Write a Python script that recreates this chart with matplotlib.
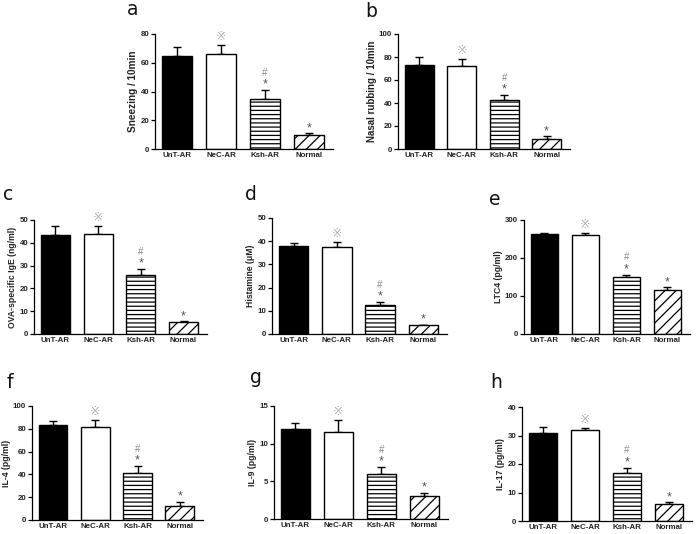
import matplotlib
matplotlib.use("Agg")
import matplotlib.pyplot as plt

plt.rcParams['font.family'] = ['Liberation Sans', 'DejaVu Sans', 'Noto Sans CJK SC']
plt.rcParams['hatch.linewidth'] = 0.9

groups = ["UnT-AR", "NeC-AR", "Ksh-AR", "Normal"]

letters = ["a", "b", "c", "d", "e", "f", "g", "h"]
ylabels = ["Sneezing / 10min", "Nasal rubbing / 10min", "OVA-specific IgE (ng/ml)",
           "Histamine (\u03bcM)", "LTC4 (pg/ml)", "IL-4 (pg/ml)", "IL-9 (pg/ml)", "IL-17 (pg/ml)"]

means_a = [65, 66, 35, 10]
errs_a = [6, 6.5, 6, 1]
means_b = [73, 72, 43, 9]
errs_b = [7, 6, 4, 2]
means_c = [43.5, 44, 26, 5.3]
errs_c = [4, 3.5, 2.3, 0.3]
means_d = [38, 37.5, 12.3, 3.7]
errs_d = [1.3, 2.2, 1.5, 0.3]
means_e = [263, 260, 150, 115]
errs_e = [4, 6, 6, 8]
means_f = [83, 82, 41, 12]
errs_f = [4, 6, 6, 4]
means_g = [12, 11.5, 6, 3]
errs_g = [0.8, 1.7, 0.9, 0.5]
means_h = [31, 32, 17, 6]
errs_h = [2, 0.7, 1.7, 0.7]

ymax = [80, 100, 50, 50, 300, 100, 15, 40]
ystep = [20, 20, 10, 10, 100, 20, 5, 10]
ylabel_size = [7.2, 7.0, 6.2, 6.2, 6.2, 6.2, 6.2, 6.2]

all_means = [means_a, means_b, means_c, means_d, means_e, means_f, means_g, means_h]
all_errs = [errs_a, errs_b, errs_c, errs_d, errs_e, errs_f, errs_g, errs_h]

# axes rectangles in pixels: (left, right, top, bottom)
rects_px = [
    (155, 333, 34, 149),
    (398, 570, 34, 149),
    (34, 207, 220, 334),
    (272, 447, 218, 334),
    (524, 690, 220, 334),
    (32, 203, 406, 520),
    (274, 448, 406, 519),
    (522, 692, 407, 521),
]
letter_px = [(127, 15), (365, 17), (3, 200), (245, 200), (489, 205), (7, 388), (250, 383), (490, 388)]

W, H = 700, 534
fig = plt.figure(figsize=(W / 100, H / 100), dpi=100)

fills = ["black", "white", "white", "white"]
hatches = [None, None, "----", "///"]

for i in range(8):
    l, r, t, b = rects_px[i]
    ax = fig.add_axes([l / W, 1 - b / H, (r - l) / W, (b - t) / H])
    m = all_means[i]
    e = all_errs[i]
    x = list(range(4))
    for j in range(4):
        ax.bar(x[j], m[j], width=0.68, color=fills[j], edgecolor="black",
               linewidth=1.0, hatch=hatches[j], zorder=2)
        ax.errorbar(x[j], m[j], yerr=[[0], [e[j]]], fmt="none", ecolor="black",
                    elinewidth=1.0, capsize=3, capthick=1.0, zorder=1)
    ax.set_xlim(-0.5, 3.55)
    ax.set_ylim(0, ymax[i])
    ax.set_yticks([k * ystep[i] for k in range(int(ymax[i] / ystep[i]) + 1)])
    ax.set_xticks(x)
    ax.set_xticklabels(groups)
    for s in ["top", "right"]:
        ax.spines[s].set_visible(False)
    for s in ["left", "bottom"]:
        ax.spines[s].set_linewidth(0.9)
    ax.spines["left"].set_bounds(0, ymax[i])
    ax.tick_params(axis="both", direction="out", length=3, width=0.9, labelsize=5.7, pad=1.2)
    ax.tick_params(axis="x", length=0, pad=2)
    for lab in ax.get_xticklabels() + ax.get_yticklabels():
        lab.set_fontweight("bold")
        lab.set_color("#222222")
    ax.set_ylabel(ylabels[i], fontsize=ylabel_size[i], fontweight="bold", color="#222222",
                  labelpad=1.5)

    # significance marks
    top1 = m[1] + e[1]
    ax.annotate("\u203b", (1, top1), xytext=(0, 6), textcoords="offset points",
                ha="center", va="center", fontsize=9, color="#aaaaaa",
                family=["DejaVu Sans", "Noto Sans CJK SC"])
    top2 = m[2] + e[2]
    ax.annotate("*", (2, top2), xytext=(0, 4), textcoords="offset points",
                ha="center", va="center", fontsize=9, color="#555555")
    ax.annotate("#", (2, top2), xytext=(0, 12.5), textcoords="offset points",
                ha="center", va="center", fontsize=7, color="#888888")
    top3 = m[3] + e[3]
    ax.annotate("*", (3, top3), xytext=(0, 3.5), textcoords="offset points",
                ha="center", va="center", fontsize=9, color="#555555")

    lx, ly = letter_px[i]
    fig.text(lx / W, 1 - ly / H, letters[i], fontsize=13.5, ha="left", va="baseline",
             family=["DejaVu Sans"], color="#111111")

fig.savefig("out.png", dpi=100)
